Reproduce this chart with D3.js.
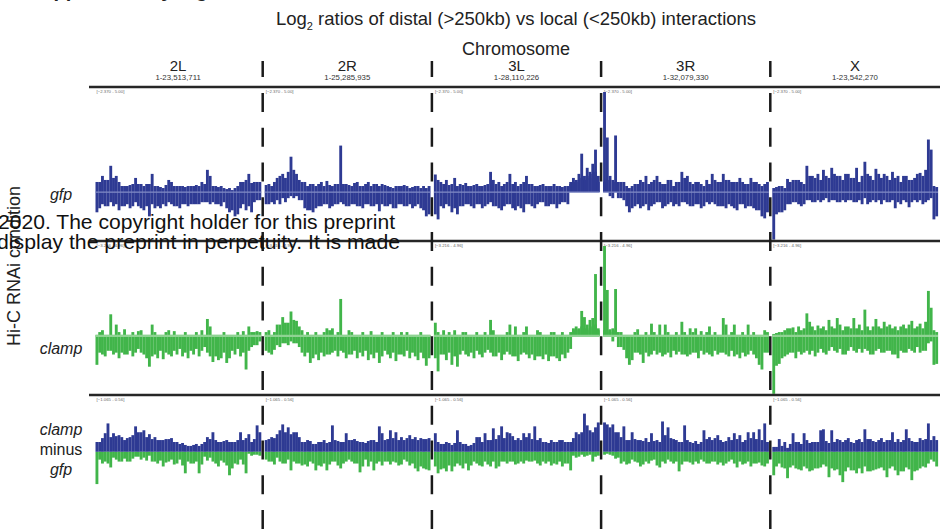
<!DOCTYPE html>
<html lang="en">
<head>
  <meta charset="UTF-8">
  <title>Log2 ratios of distal vs local interactions</title>
  <style>
    body {
      margin: 0;
      padding: 0;
      background: #fff;
    }
    svg {
      display: block;
      font-family: "Liberation Sans", Arial, sans-serif;
    }
  </style>
</head>
<body>
<svg width="951" height="531"></svg>
<script src="https://d3js.org/d3.v7.min.js"></script>
<script>
const chromosomes = ["2L", "2R", "3L", "3R", "X"];
const chromSpans = ["1-23,513,711", "1-25,285,935", "1-28,110,226", "1-32,079,330", "1-23,542,270"];

const gfpRange = [-2.370, 5.00];
const clampRange = [-3.216, 4.96];
const diffRange = [-1.065, 0.56];

// log2 distal/local per window; every pixel column holds two bins (A and B),
// one row per chromosome arm
const gfpBinsA = [
  [-1.0,0.5,0.8,-0.7,0.6,1.3,-0.7,0.8,-0.9,0.3, -0.7,0.3,-0.8,0.4,0.7,-0.7,0.4,-0.9,0.4,-1.2, 0.9,-0.8,0.3,-0.8,0.2,-0.7,0.6,0.5,-0.7,0.3, -0.8,0.3,-0.6,0.3,-0.6,0.3,-0.6,0.3,0.5,-0.5, 1.1,0.8,-0.5,0.3,-0.6,0.3,-0.5,-0.8,-1.0,-0.9, -1.2,-1.1,0.5,-0.6,0.6,0.9,-1.0,0.5,-0.4,0.5],
  [-0.6,0.4,-0.5,0.5,0.7,-0.6,0.9,-0.5,1.0,1.75, 1.1,0.9,0.6,-0.4,0.5,-0.9,0.4,-1.0,0.3,-0.7, 0.5,-0.6,0.55,-0.8,0.3,-0.6,0.4,2.3,-0.6,0.4, -0.7,0.3,-0.6,0.5,-0.7,0.3,-0.6,0.5,-0.7,0.4, -0.6,-0.95,0.4,-0.7,0.3,-0.6,0.2,-0.8,0.3,-0.6, 0.35,-0.7,0.2,-0.8,0.3,-0.6,0.2,-0.9,-1.2,-1.1],
  [0.87,-1.35,0.5,-0.8,0.6,-0.7,-1.0,0.7,-1.1,0.4, -0.7,0.45,-0.6,0.3,-0.8,0.4,-0.6,0.3,-0.7,0.4, 1.0,0.6,-0.7,0.5,-0.9,0.4,-0.6,0.9,-0.8,0.5, -0.7,0.4,-1.0,0.8,-0.6,0.4,-0.8,0.3,-0.5,0.4, -0.7,0.3,-0.6,0.4,-0.8,0.3,-0.5,0.3,-0.6,0.5, 0.7,0.6,0.9,1.9,0.8,1.2,1.0,1.4,2.1,0.8],
  [4.95,2.7,0.8,0.6,2.8,0.5,-0.3,0.5,-0.7,-1.0, -0.8,0.4,-0.6,0.6,-0.7,0.8,-0.9,0.5,-0.6,0.8, -0.5,0.4,-0.7,0.6,-0.5,0.3,-0.6,0.5,1.0,-0.5, 0.8,-0.7,0.4,-0.6,0.5,-0.8,0.3,-0.5,0.4,0.9, -0.6,0.5,-0.7,0.9,-0.8,0.6,-0.7,0.5,-0.9,0.7, -0.6,0.4,-0.7,0.7,-0.8,0.5,-0.9,-1.2,-1.3,0.5],
  [-2.35,-1.1,0.3,-1.0,0.2,0.65,-0.6,0.6,-0.5,0.6, -0.7,0.4,1.3,-0.4,0.8,-0.5,0.9,0.6,1.1,-0.3, 0.7,1.2,-0.4,0.8,-0.5,0.6,0.9,-0.4,0.7,-0.5, 1.2,0.5,-0.6,1.5,-0.6,0.8,0.6,1.15,-0.4,0.7, 0.9,-0.5,0.6,1.0,-0.8,0.8,0.5,-0.4,0.8,-0.75, 0.6,0.7,-0.5,0.95,-0.6,1.1,2.6,2.1,-1.35,-1.2]
];
const gfpBinsB = [
  [0.5,-0.8,-0.6,0.6,-0.7,-0.5,0.7,-0.6,0.5,-0.7, 0.3,-0.6,0.35,-0.7,-0.5,0.4,-0.8,0.3,-0.7,0.4, -0.6,0.3,-0.7,0.25,-0.6,0.35,-0.5,-0.6,0.3,-0.7, 0.3,-0.6,0.25,-0.7,0.3,-0.6,0.35,-0.6,-0.5,0.4, -0.5,-0.6,0.3,-0.6,0.25,-0.7,0.2,0.15,0.2,0.1, 0.2,0.3,-0.8,0.5,-0.9,-0.7,0.45,-0.5,0.5,-0.4],
  [0.35,-0.6,0.3,-0.6,-0.4,0.8,-0.3,0.7,-0.3,-0.2, -0.3,-0.2,-0.4,0.5,-0.8,0.3,-0.9,0.4,-0.8,0.4, -0.7,0.3,-0.6,0.35,-0.7,0.4,-0.6,-0.5,0.4,-0.7, 0.35,-0.6,0.45,-0.7,0.3,-0.8,0.4,-0.6,0.3,-0.7, 0.4,0.3,-0.6,0.35,-0.7,0.25,-0.8,0.3,-0.6,0.3, -0.7,0.3,-0.6,0.25,-0.7,0.3,-0.8,0.3,0.2,0.3],
  [-1.1,0.6,-0.7,0.4,-0.6,0.35,0.4,-0.8,0.3,-0.7, 0.35,-0.6,0.3,-0.7,0.35,-0.6,0.3,-0.8,0.35,-0.6, -0.5,-0.7,0.4,-0.8,0.3,-0.7,0.5,-0.6,0.4,-0.9, 0.3,-0.8,0.5,-0.6,0.4,-0.7,0.3,-0.6,0.35,-0.5, 0.3,-0.7,0.3,-0.6,0.3,-0.6,0.25,-0.5,0.3,0.4, 0.5,0.5,0.6,0.7,0.6,0.8,0.7,0.9,1.0,0.5],
  [0.5,0.6,-0.2,-0.3,0.5,-0.3,0.5,-0.4,0.3,0.2, 0.3,-0.7,0.4,-0.8,0.5,-0.6,0.4,-0.7,0.6,-0.5, 0.5,-0.8,0.4,-0.6,0.6,-0.7,0.5,-0.7,-0.5,0.7, -0.6,0.5,-0.7,0.5,-0.6,0.4,-0.7,0.6,-0.6,-0.5, 0.6,-0.7,0.5,-0.7,0.6,-0.6,0.5,-0.8,0.5,-0.6, 0.5,-0.8,0.4,-0.7,0.5,-0.9,0.4,0.3,0.4,-1.0],
  [0.2,0.25,-1.0,0.3,-0.9,-0.6,0.5,-0.5,0.6,-0.6, 0.5,-0.6,-0.4,0.8,-0.5,0.7,-0.4,-0.5,-0.4,0.8, -0.5,-0.4,0.9,-0.5,0.8,-0.4,-0.5,0.9,-0.4,0.7, -0.5,-0.4,0.8,-0.3,0.9,-0.5,-0.4,-0.5,0.9,-0.6, -0.4,0.8,-0.5,-0.4,0.7,-0.5,-0.6,0.8,-0.5,0.6, -0.5,-0.4,0.9,-0.4,0.8,-0.5,-0.4,-0.3,0.3,0.25]
];

const clampBinsA = [
  [-1.55,-0.9,0.3,-1.1,-0.8,1.15,-1.0,0.6,-1.2,-0.9, 0.35,-1.0,-0.8,-1.1,-0.9,-0.7,0.3,-1.0,-1.2,-1.65, 0.6,-1.0,-1.2,-0.8,-1.25,-0.9,0.3,-1.1,-0.8,-1.0, -0.7,-1.1,-0.9,-1.2,-0.8,-1.0,-0.7,-1.1,-0.8,-0.6, 0.9,0.5,-1.4,-1.1,-1.3,-1.2,-0.9,-1.45,-1.2,-0.8, -1.0,-0.7,-1.1,-0.9,-1.8,0.5,-0.6,0.2,-0.5,-0.3],
  [-0.8,0.3,-1.0,-0.75,0.6,-0.6,1.0,-0.4,0.7,1.3, 0.85,-0.4,0.5,0.3,-1.1,-0.9,-1.45,-1.2,-1.0,-1.3, -0.9,-1.1,0.4,-1.0,0.4,-0.8,-1.1,1.97,-0.9,-1.2, 0.3,-1.0,-0.8,-1.2,-0.9,-1.1,-0.8,-1.3,-1.0,-1.2, -0.9,-1.45,-1.1,-0.8,-1.0,-1.2,-0.9,-1.35,-1.0,0.2, -1.1,-0.8,-1.2,-0.9,-1.1,-1.3,-0.9,-1.2,-1.6,-1.2],
  [0.7,-1.9,-1.0,0.3,-1.3,-0.9,-1.55,0.3,-1.65,-1.0, -0.8,0.2,-1.1,-0.9,-1.2,-0.8,-1.0,-1.15,-0.9,-0.75, 0.85,0.3,-1.1,-0.9,-1.3,-1.0,-0.85,0.6,-1.1,0.5, -1.35,-1.0,-0.9,0.5,-1.2,-1.0,-1.3,0.3,-1.1,-1.25, -1.0,-1.35,-1.1,0.2,-1.2,-1.35,-1.0,-1.2,-0.9,-0.7, 0.4,0.5,0.4,1.33,1.0,0.6,0.85,0.95,3.3,0.4],
  [4.8,2.45,0.35,0.4,2.5,-0.6,0.2,-0.75,-1.2,-1.55, -1.3,-0.9,0.35,-1.0,-1.45,-0.9,-1.1,0.65,-0.8,-1.0, 0.6,-1.1,0.6,-0.9,-1.15,-0.8,-1.0,-0.85,0.75,-1.0, -1.1,0.4,-0.9,0.4,-1.2,-0.8,-1.0,-0.9,0.5,-1.1, -0.8,-1.0,-0.9,0.95,0.6,-1.1,-0.8,0.6,-1.0,-1.2, -0.9,-1.1,0.6,-0.8,-1.0,-1.2,-1.55,-1.8,0.3,-0.9],
  [-3.1,-1.6,-1.5,0.2,-1.1,0.4,-0.9,0.45,-1.2,-0.85, -1.0,-0.9,1.2,0.75,-0.8,-1.1,0.55,-0.7,-0.9,-1.0, 0.85,-0.6,-0.8,0.95,-0.7,-1.0,0.5,-0.8,-0.6,0.95, -0.9,-0.7,0.3,1.4,-0.8,-1.0,0.5,0.9,-0.7,-0.9, 0.75,-0.8,0.6,-1.0,0.5,-1.2,-0.8,0.6,-0.9,-0.7, 0.8,-0.9,-0.6,0.65,-0.8,0.75,2.4,1.5,-1.55,-1.5]
];
const clampBinsB = [
  [0.05,0.2,-1.0,0.05,0.05,-0.8,0.05,-0.9,0.2,0.05, -1.0,0.05,0.05,0.2,0.05,0.25,-0.9,0.05,0.05,0.05, -1.1,0.2,0.05,0.05,0.05,0.2,-1.0,0.05,0.25,0.05, 0.05,0.05,0.2,0.05,0.05,0.05,0.2,0.05,0.3,0.05, -0.9,-1.1,0.05,0.05,0.05,0.05,0.2,0.05,0.05,0.05, 0.05,0.2,0.05,0.25,0.05,-0.8,0.2,-0.5,0.25,0.2],
  [0.2,-0.9,0.05,0.2,-0.5,0.6,-0.4,0.7,-0.5,-0.3, -0.4,0.8,-0.6,-0.9,0.05,0.2,0.05,0.05,0.2,0.05, 0.05,0.2,-1.0,0.3,-0.9,0.05,0.2,-0.8,0.05,0.05, -1.0,0.2,0.05,0.05,0.05,0.2,0.05,0.05,0.25,0.05, 0.05,0.05,0.2,0.05,0.05,0.05,0.2,0.05,0.05,-1.0, 0.05,0.2,0.05,0.05,0.05,0.05,0.2,0.05,0.05,0.05],
  [-1.2,0.2,0.05,-1.0,0.05,0.2,0.05,-1.1,0.05,0.05, 0.2,-1.0,0.05,0.05,0.05,0.2,0.05,0.05,0.2,0.05, -0.9,-1.1,0.05,0.05,0.05,0.05,0.2,-1.0,0.05,-1.1, 0.05,0.05,0.2,-1.0,0.05,0.05,0.05,-1.1,0.2,0.05, 0.05,0.05,0.2,-1.1,0.05,0.05,0.2,0.05,0.05,0.2, 0.3,0.35,0.3,0.5,0.4,0.3,0.4,0.5,0.6,0.3],
  [0.3,0.3,0.2,-0.3,0.3,0.2,-0.6,0.05,0.05,0.05, 0.05,0.2,-0.9,0.05,0.05,0.2,0.05,-1.0,0.2,0.05, -0.9,0.05,-1.0,0.2,0.05,0.05,0.2,0.05,-1.0,0.2, 0.05,-1.0,0.2,-0.9,0.05,0.25,0.05,0.2,-1.0,0.05, 0.2,0.05,0.05,-0.9,-1.0,0.05,0.2,-1.1,0.05,0.05, 0.2,0.05,-1.0,0.05,0.2,0.05,0.05,0.05,-0.9,0.2],
  [0.1,0.15,0.2,-1.2,0.3,-1.0,0.4,-0.9,0.2,0.5, 0.3,0.4,-0.8,-1.0,0.5,0.3,-0.9,0.4,0.5,0.3, -0.8,0.5,0.4,-0.9,0.6,0.3,-1.0,0.5,0.4,-0.8, 0.4,0.6,-0.9,-0.7,0.5,0.3,-1.0,-0.8,0.5,0.4, -0.9,0.5,-0.8,0.4,-1.0,0.3,0.5,-0.9,0.4,0.6, -0.8,0.4,0.5,-0.9,0.4,-0.8,-0.4,-0.3,0.3,0.2]
];

// clamp minus gfp
const diffBinsA = [
  [-0.33,0.1,-0.12,0.19,0.29,-0.16,0.19,-0.08,0.17,-0.1, 0.12,-0.1,0.15,-0.07,0.26,-0.05,0.2,0.22,-0.09,0.18, -0.1,0.15,-0.12,0.12,-0.15,0.13,-0.1,0.14,-0.13,0.1, -0.08,0.09,-0.22,0.06,-0.12,0.07,-0.1,-0.22,0.08,-0.05, 0.15,-0.06,0.2,-0.12,0.1,-0.09,0.11,-0.14,-0.24,0.1, -0.12,0.12,0.2,-0.13,-0.22,0.18,-0.04,0.13,0.27,0.2],
  [0.12,-0.1,0.15,-0.13,0.18,0.22,0.28,-0.12,0.25,-0.19, 0.2,0.2,-0.12,0.1,-0.13,0.12,-0.1,0.08,-0.19,0.1, -0.15,0.12,-0.19,0.1,0.27,-0.1,0.11,-0.17,0.1,0.19, -0.08,0.12,-0.12,0.11,-0.21,0.1,0.09,-0.15,0.12,-0.19, 0.1,0.26,0.19,-0.1,0.13,0.22,-0.1,0.2,-0.14,0.15, -0.08,0.14,0.17,-0.12,0.15,-0.2,0.14,-0.17,0.13,-0.19],
  [0.19,-0.22,0.08,-0.17,0.1,-0.14,-0.2,0.09,0.22,-0.14, 0.08,-0.12,-0.19,0.07,-0.1,0.15,0.15,-0.15,0.19,-0.13, 0.12,0.24,-0.17,0.17,0.26,-0.1,0.2,0.19,-0.1,0.12, -0.12,0.12,0.19,-0.09,0.19,-0.1,0.26,-0.12,0.14,-0.1, 0.1,-0.1,0.12,-0.12,0.1,-0.1,0.12,-0.12,0.1,-0.19, 0.14,0.2,-0.05,0.2,0.39,0.27,0.22,-0.1,0.25,0.3],
  [0.3,0.28,-0.03,0.28,-0.07,0.2,-0.12,0.26,-0.13,0.12, 0.2,-0.1,0.12,-0.15,0.11,-0.1,0.1,0.19,-0.08,0.12, -0.16,0.31,0.17,0.25,-0.1,0.13,0.12,-0.2,0.1,0.27, -0.1,0.1,0.09,-0.1,0.08,-0.08,0.22,-0.12,0.15,0.12, -0.1,0.17,-0.11,0.1,-0.12,0.15,-0.08,0.19,-0.16,0.17, 0.1,-0.12,0.2,-0.15,0.2,-0.12,0.23,-0.14,0.29,-0.12],
  [-0.24,0.05,0.13,-0.16,0.1,-0.27,0.08,0.19,-0.17,0.1, -0.19,0.19,-0.17,0.09,-0.19,0.1,-0.17,0.22,0.23,-0.15, -0.26,0.22,-0.19,0.13,-0.24,-0.31,0.12,0.14,-0.19,0.09, -0.22,0.13,-0.22,0.23,-0.2,0.13,-0.19,0.1,-0.17,0.14, 0.1,-0.26,0.12,0.2,-0.19,-0.24,0.1,-0.2,0.23,0.14, -0.29,0.1,-0.19,0.14,-0.15,0.13,0.29,-0.08,0.16,-0.15]
];
const diffBinsB = [
  [0.1,-0.08,0.14,-0.1,-0.12,0.15,-0.06,0.16,-0.1,0.15, -0.07,0.14,-0.1,0.17,-0.05,0.2,-0.08,-0.06,0.15,-0.04, 0.13,-0.1,0.12,-0.09,0.12,-0.11,0.13,-0.08,0.1,-0.12, 0.08,-0.14,0.07,-0.1,0.06,-0.12,0.08,0.06,-0.13,0.1, -0.09,0.13,-0.1,0.12,-0.15,0.1,-0.11,0.12,0.1,-0.17, 0.1,-0.13,-0.08,0.12,0.14,-0.02,0.1,-0.03,-0.03,-0.04],
  [-0.08,0.13,-0.1,0.14,-0.06,-0.1,-0.12,0.2,-0.08,0.18, -0.1,-0.12,0.15,-0.14,0.1,-0.15,0.11,-0.12,0.08,-0.14, 0.1,-0.12,0.09,-0.13,-0.1,0.12,-0.14,0.1,-0.12,-0.1, 0.12,-0.1,0.13,-0.12,0.1,-0.15,-0.08,0.11,-0.1,0.12, -0.12,-0.1,-0.14,0.12,-0.1,-0.13,0.14,-0.11,0.12,-0.13, 0.12,-0.1,-0.14,0.13,-0.17,0.12,-0.15,0.13,-0.18,0.14],
  [-0.15,0.1,-0.18,0.08,-0.2,0.09,0.07,-0.15,-0.12,0.1, -0.17,0.08,0.06,-0.14,0.09,-0.12,-0.14,0.1,-0.1,0.12, -0.15,-0.1,0.13,-0.15,-0.1,0.14,-0.12,-0.1,0.16,-0.13, 0.14,-0.1,-0.12,0.15,-0.1,0.13,-0.09,0.12,-0.14,0.1, -0.12,0.09,-0.14,0.1,-0.13,0.12,-0.15,0.1,-0.12,0.1, -0.04,-0.06,0.18,-0.03,-0.05,-0.04,-0.03,0.2,-0.05,-0.04],
  [-0.03,-0.02,0.25,-0.04,0.2,-0.06,0.15,-0.1,0.12,-0.12, -0.08,0.13,-0.11,0.12,-0.13,0.14,-0.12,-0.09,0.11,-0.14, 0.1,-0.1,-0.12,-0.08,0.14,-0.12,-0.1,0.1,-0.13,-0.1, 0.12,-0.11,-0.13,0.11,-0.12,0.1,-0.1,0.13,-0.12,-0.1, 0.14,-0.13,0.12,-0.14,0.11,-0.1,0.12,-0.12,0.13,-0.1, -0.13,0.12,-0.1,0.14,-0.12,0.13,-0.11,0.12,-0.15,0.1],
  [0.05,-0.15,-0.12,0.06,-0.17,0.04,-0.16,-0.14,0.1,-0.18, 0.08,-0.15,0.12,-0.2,0.1,-0.17,0.1,-0.16,-0.13,0.11, 0.09,-0.17,0.1,-0.18,0.12,0.1,-0.2,-0.16,0.1,-0.19, 0.12,-0.17,0.1,-0.15,0.13,-0.2,0.11,-0.18,0.12,-0.16, -0.19,0.12,-0.17,-0.15,0.1,0.13,-0.2,0.12,-0.16,-0.18, 0.11,-0.2,0.1,-0.17,0.12,-0.16,-0.12,0.12,-0.1,0.12]
];

const blue = "#2e3a93",
      green = "#41b54a";

const svg = d3.select("svg");

const chromX = d3.scaleBand().domain(chromosomes).range([93.5, 939.5]);

const tracks = [
  {label: ["gfp"], italic: [true], labelY: [200], binsA: gfpBinsA, binsB: gfpBinsB, range: gfpRange,
   y: d3.scaleLinear().domain(gfpRange).range([240, 91]), top: 87,
   color: () => blue, baseline: "#7e88c4", baseW: 1.2},
  {label: ["clamp"], italic: [true], labelY: [354], binsA: clampBinsA, binsB: clampBinsB, range: clampRange,
   y: d3.scaleLinear().domain(clampRange).range([396, 243]), top: 241,
   color: () => green, baseline: "#8fd393", baseW: 2.2},
  {label: ["clamp", "minus", "gfp"], italic: [true, false, true], labelY: [435, 455, 475],
   binsA: diffBinsA, binsB: diffBinsB, range: diffRange,
   y: d3.scaleLinear().domain(diffRange).range([556, 397]), top: 395,
   color: v => v >= 0 ? blue : green, baseline: null}
];

// heading of the page above, cut off by the crop
svg.append("text")
  .attr("x", 28).attr("y", -3)
  .style("font-size", "20px").style("font-weight", "bold").attr("fill", "#222")
  .text("Supplementary Figure");

// title
const title = svg.append("text")
  .attr("x", 516).attr("y", 25)
  .attr("text-anchor", "middle")
  .style("font-size", "18.5px")
  .attr("fill", "#222");
title.append("tspan").text("Log");
title.append("tspan").attr("dy", 5).style("font-size", "11px").text("2");
title.append("tspan").attr("dy", -5).text(" ratios of distal (>250kb) vs local (<250kb) interactions");

svg.append("text")
  .attr("x", 516).attr("y", 54.5)
  .attr("text-anchor", "middle")
  .style("font-size", "18px")
  .attr("fill", "#222")
  .text("Chromosome");

// chromosome headers
chromosomes.forEach((c, ci) => {
  const cx = chromX(c) + chromX.bandwidth() / 2;
  svg.append("text")
    .attr("x", cx).attr("y", 71)
    .attr("text-anchor", "middle")
    .style("font-size", "15px").attr("fill", "#222")
    .text(c);
  svg.append("text")
    .attr("x", cx).attr("y", 80)
    .attr("text-anchor", "middle")
    .style("font-size", "7.8px").attr("fill", "#333")
    .text(chromSpans[ci]);
  if (ci > 0) {
    svg.append("line")
      .attr("x1", chromX(c)).attr("x2", chromX(c))
      .attr("y1", 61).attr("y2", 77)
      .attr("stroke", "#1a1a1a").attr("stroke-width", 2.5);
  }
});

// tracks
tracks.forEach(t => {
  const zero = t.y(0);

  svg.append("line")
    .attr("x1", 89).attr("x2", 940)
    .attr("y1", t.top).attr("y2", t.top)
    .attr("stroke", "#262626").attr("stroke-width", 2.5);

  chromosomes.forEach((c, ci) => {
    const a = t.binsA[ci], b = t.binsB[ci];
    const bx = d3.scaleBand()
      .domain(d3.range(a.length))
      .range([chromX(c) + 2, chromX(c) + chromX.bandwidth() - 1.5]);
    const bins = a.flatMap((v, i) => [{i, v}, {i, v: b[i]}]);

    svg.append("text")
      .attr("x", chromX(c) + 3).attr("y", t.top + 5.5)
      .style("font-size", "4.3px").attr("fill", "#666")
      .text(`[${d3.format(".3f")(t.range[0])} - ${d3.format(".2f")(t.range[1])}]`);

    svg.append("g").selectAll("rect")
      .data(bins)
      .join("rect")
      .attr("x", d => bx(d.i))
      .attr("width", bx.bandwidth() + 0.1)
      .attr("y", d => Math.min(t.y(d.v), zero))
      .attr("height", d => Math.abs(t.y(d.v) - zero))
      .attr("fill", d => t.color(d.v));

    if (t.baseline) {
      svg.append("line")
        .attr("x1", bx.range()[0]).attr("x2", bx.range()[1])
        .attr("y1", zero).attr("y2", zero)
        .attr("stroke", t.baseline).attr("stroke-width", t.baseW);
    }
  });

  t.label.forEach((s, i) => {
    svg.append("text")
      .attr("x", 61).attr("y", t.labelY[i])
      .attr("text-anchor", "middle")
      .style("font-size", "16px")
      .style("font-style", t.italic[i] ? "italic" : "normal")
      .attr("fill", "#222")
      .text(s);
  });
});

// dashed separators between arms
chromosomes.slice(1).forEach(c => {
  svg.append("line")
    .attr("x1", chromX(c)).attr("x2", chromX(c))
    .attr("y1", 93).attr("y2", 531)
    .attr("stroke", "#1a1a1a").attr("stroke-width", 2.5)
    .attr("stroke-dasharray", "19 15.75");
});

svg.append("text")
  .attr("transform", "translate(20,266) rotate(-90)")
  .attr("text-anchor", "middle")
  .style("font-size", "18px").attr("fill", "#222")
  .text("Hi-C RNAi condition");

// bioRxiv notice printed over the figure
svg.append("text")
  .attr("x", -2).attr("y", 229)
  .style("font-size", "21px").attr("fill", "#111")
  .attr("textLength", 397).attr("lengthAdjust", "spacingAndGlyphs")
  .text("2020. The copyright holder for this preprint");
svg.append("text")
  .attr("x", -3).attr("y", 249)
  .style("font-size", "21px").attr("fill", "#111")
  .attr("textLength", 403).attr("lengthAdjust", "spacingAndGlyphs")
  .text("display the preprint in perpetuity. It is made");
</script>
</body>
</html>
